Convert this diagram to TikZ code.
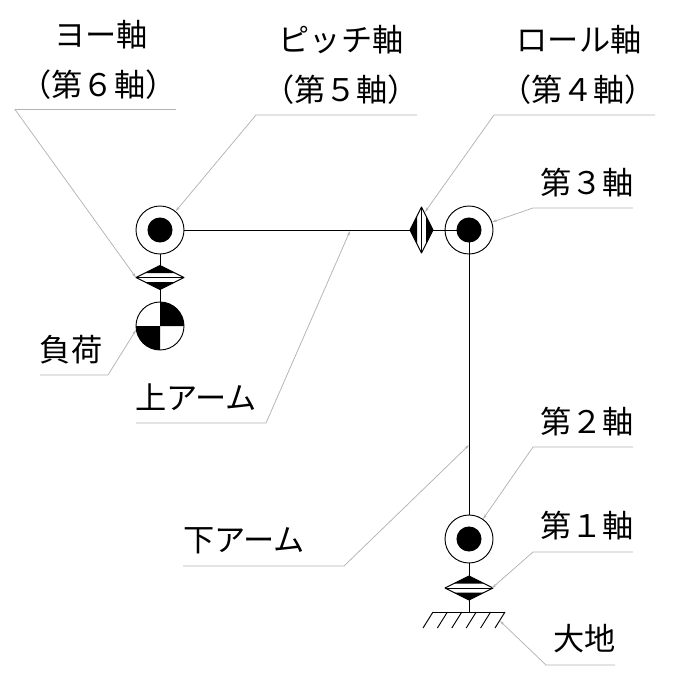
\documentclass[tikz,border=0pt]{standalone}
\usepackage{fontspec}
\setmainfont{Noto Sans CJK JP}
\usetikzlibrary{arrows.meta}
\definecolor{jtGray}{RGB}{178,178,178}
\tikzset{
  leader/.style={draw=jtGray, line width=0.55pt, -{Stealth[length=3.5pt,width=2pt]}},
  ringj/.style={circle, draw, line width=0.7pt, fill=white, minimum size=36pt, inner sep=0pt},
  lbl/.style={font=\fontsize{23.4}{28}\selectfont, inner sep=0pt, anchor=center},
  link/.style={line width=0.75pt}
}
\begin{document}
\begin{tikzpicture}[x=0.75pt, y=-0.75pt]
  \useasboundingbox (0,0) rectangle (672,684);

  % Joints
  \node[ringj] (pitch) at (160,230) {};
  \node[ringj] (third) at (469,230) {};
  \node[ringj] (second) at (469,539) {};
  \node[ringj] (load) at (160,326) {};
  \coordinate (yawc) at (160,277.5);
  \coordinate (rollc) at (421.5,230);
  \coordinate (basec) at (469,588);
  \coordinate (gnd) at (469,612);

  % Links
  \draw[link] (pitch) -- (third.center);
  \draw[link] (third.center) -- (second);
  \draw[link] (second) -- (gnd);
  \draw[link] (pitch) -- (load);
  \foreach \c in {pitch,third,second}
    \fill (\c.center) circle (9.4pt);

  % Yaw and base diamonds
  \foreach \c in {yawc,basec} {
    \begin{scope}[shift={(\c)}]
      \fill[white] (-24,0) -- (0,-12) -- (24,0) -- (0,12) -- cycle;
      \fill (-15,-4.5) -- (0,-12) -- (15,-4.5) -- cycle;
      \fill (-15,4.5) -- (15,4.5) -- (0,12) -- cycle;
      \draw[line width=0.7pt, line join=round] (-24,0) -- (0,-12) -- (24,0) -- (0,12) -- cycle;
      \draw[link] (-24,0) -- (24,0);
    \end{scope}
  }

  % Roll diamond
  \begin{scope}[shift={(rollc)}]
    \fill[white] (-11.5,0) -- (0,-23) -- (11.5,0) -- (0,23) -- cycle;
    \fill (-4.5,-14) -- (-11.5,0) -- (-4.5,14) -- cycle;
    \fill (4.5,-14) -- (11.5,0) -- (4.5,14) -- cycle;
    \draw[line width=0.7pt, line join=round] (-11.5,0) -- (0,-23) -- (11.5,0) -- (0,23) -- cycle;
    \draw[link] (0,-23) -- (0,23);
  \end{scope}

  % Load
  \fill (load.center) -- (136,326) arc[start angle=180, end angle=90, radius=24] -- cycle;
  \fill (load.center) -- (184,326) arc[start angle=0, end angle=-90, radius=24] -- cycle;

  % Ground
  \draw[link] (433,612) -- (505,612);
  \foreach \i in {0,...,5}
    \draw[line width=0.7pt] (433+14.4*\i,612) -- (423+14.4*\i,628);

  % Labels
  \node[lbl] (lyaw) at (101,35) {ヨー軸};
  \node[lbl] (lyawb) at (98.5,85) {（第６軸）};
  \node[lbl] (lpitch) at (341,40) {ピッチ軸};
  \node[lbl] (lpitchb) at (341,90) {（第５軸）};
  \node[lbl] (lroll) at (579,40) {ロール軸};
  \node[lbl] (lrollb) at (578,90) {（第４軸）};
  \node[lbl] (lthird) at (587,183) {第３軸};
  \node[lbl] (lload) at (71,350) {負荷};
  \node[lbl] (lupper) at (196,397) {上アーム};
  \node[lbl] (llower) at (244,541) {下アーム};
  \node[lbl] (lsecond) at (587,422) {第２軸};
  \node[lbl] (lfirst) at (587,526) {第１軸};
  \node[lbl] (lgnd) at (584.5,639) {大地};

  % Leaders
  \draw[leader] (176,109.5) -- (15,109.5) -- (136,277.5);
  \draw[leader] (417,115) -- (256,115) -- (pitch);
  \draw[leader] (655,115) -- (494,115) -- (425,212);
  \draw[leader] (633,208) -- (533,208) -- (third);
  \draw[leader] (40,375) -- (108,375) -- (136,330);
  \draw[leader] (136,423) -- (266,423) -- (350,231);
  \draw[leader] (183,566) -- (344,566) -- (469,445);
  \draw[leader] (633,447) -- (533,447) -- (483,519);
  \draw[leader] (633,552) -- (533,552) -- (492,588);
  \draw[leader] (615,665) -- (546,665) -- (500,621);
\end{tikzpicture}
\end{document}
